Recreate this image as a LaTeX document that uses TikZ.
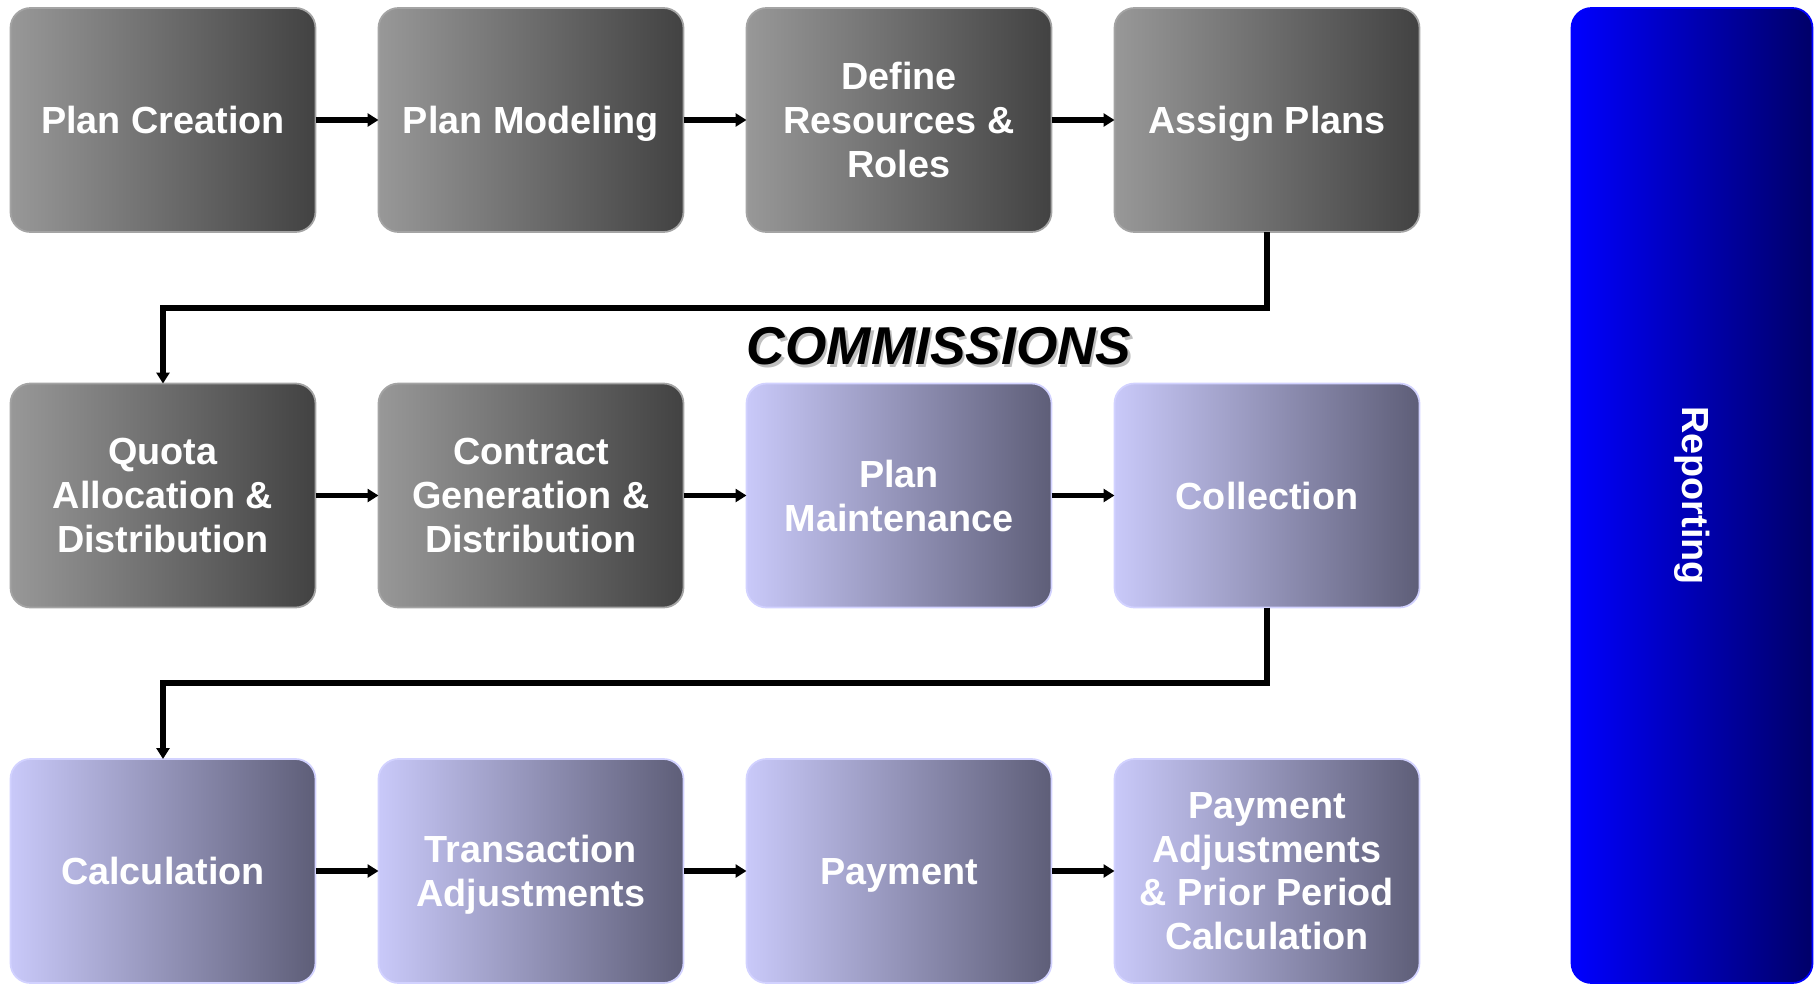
\documentclass[tikz,border=0pt]{standalone}
\usepackage{fontspec}
\setmainfont{Liberation Sans}
\usepackage{xcolor}
\usepackage{tikz}
\usetikzlibrary{calc,positioning,arrows.meta}
\definecolor{graylight}{HTML}{989898}
\definecolor{graydark}{HTML}{424242}
\definecolor{grayedge}{HTML}{A4A4A4}
\definecolor{lilaclight}{HTML}{C9C9F9}
\definecolor{lilacdark}{HTML}{5E5E78}
\definecolor{lilacedge}{HTML}{D2D2FF}
\definecolor{repblue}{HTML}{0000FF}
\definecolor{repnavy}{HTML}{000068}
\def\boxwidth{6.1cm}
\def\boxheight{4.48cm}
\def\colgap{1.26cm}
\def\rowgap{3.03cm}

\begin{document}
\begin{tikzpicture}[
    stage/.style={rounded corners=0.4cm, minimum width=\boxwidth,
        minimum height=\boxheight, inner sep=0pt, outer sep=0pt, align=center,
        text=white, text depth=0pt,
        font=\fontsize{21.5}{25}\selectfont\bfseries, line width=1pt},
    setup/.style={stage, left color=graylight, right color=graydark, draw=grayedge},
    run/.style={stage, left color=lilaclight, right color=lilacdark, draw=lilacedge},
    link/.style={line width=3.3pt, -{Triangle[length=0.22cm, width=0.26cm]}},
    title/.style={inner sep=0pt, anchor=south west,
        font=\fontsize{30.3}{34}\selectfont\bfseries\itshape}
  ]
  \useasboundingbox (0,0) rectangle (36.36,-19.68);

  % first row
  \node[setup] (create) at (3.26,-2.4) {Plan Creation};
  \node[setup, right=\colgap of create] (model) {Plan Modeling};
  \node[setup, right=\colgap of model] (define) {Define\\Resources \&\\Roles};
  \node[setup, right=\colgap of define] (assign) {Assign Plans};

  % second row
  \node[setup, below=\rowgap of create] (quota) {Quota\\Allocation \&\\Distribution};
  \node[setup, right=\colgap of quota] (contract) {Contract\\Generation \&\\Distribution};
  \node[run, right=\colgap of contract] (maintain) {Plan\\Maintenance};
  \node[run, right=\colgap of maintain] (collect) {Collection};

  % third row
  \node[run, below=\rowgap of quota] (calc) {Calculation};
  \node[run, right=\colgap of calc] (trans) {Transaction\\Adjustments};
  \node[run, right=\colgap of trans] (pay) {Payment};
  \node[run, right=\colgap of pay] (payadj) {Payment\\Adjustments\\\& Prior Period\\Calculation};

  % reporting bar
  \node[right=3.04cm of collect, rounded corners=0.4cm, minimum width=4.82cm,
    minimum height=19.5cm, outer sep=0pt, left color=repblue, right color=repnavy,
    draw=repblue, line width=1pt,
    label={[rotate=-90, text=white, font=\fontsize{21.5}{25}\selectfont\bfseries]center:Reporting}
  ] (report) {};

  \node[title, text=black!25] (commshadow) at ([xshift=0.05cm, yshift=0.31cm]maintain.north west) {COMMISSIONS};
  \node[title] (comm) at ([yshift=0.36cm]maintain.north west) {COMMISSIONS};

  % arrows
  \draw[link] (create) -- (model);
  \draw[link] (model) -- (define);
  \draw[link] (define) -- (assign);
  \draw[link] (quota) -- (contract);
  \draw[link] (contract) -- (maintain);
  \draw[link] (maintain) -- (collect);
  \draw[link] (calc) -- (trans);
  \draw[link] (trans) -- (pay);
  \draw[link] (pay) -- (payadj);

  \coordinate (bendA) at ($(assign.south)!.5!(quota.north)$);
  \coordinate (bendB) at ($(collect.south)!.5!(calc.north)$);
  \draw[link] (assign.south) |- (bendA) -| (quota.north);
  \draw[link] (collect.south) |- (bendB) -| (calc.north);

\end{tikzpicture}
\end{document}
